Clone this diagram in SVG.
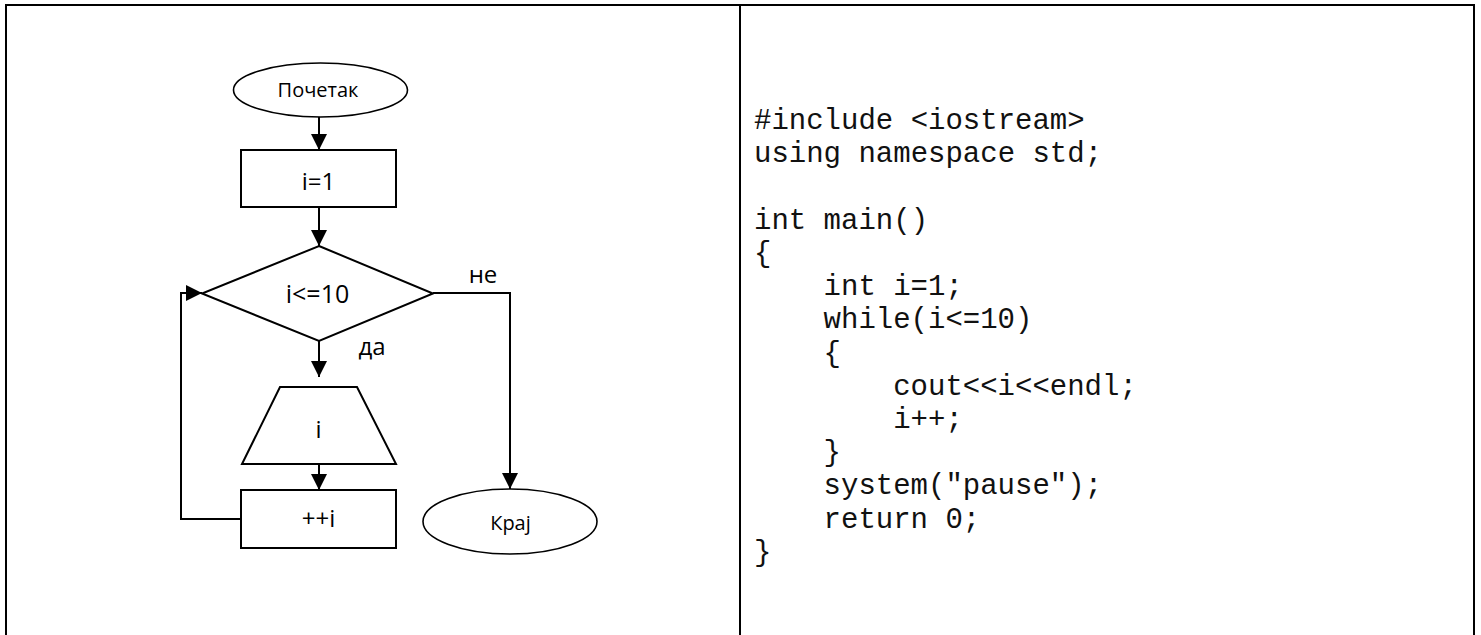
<svg xmlns="http://www.w3.org/2000/svg" width="1481" height="635" viewBox="0 0 1481 635">
<style>
.frame{fill:none;stroke:#000;stroke-width:2}
.shape{fill:#fff;stroke:#000;stroke-width:2}
.oval{fill:#fff;stroke:#000;stroke-width:1.6}
.conn{fill:none;stroke:#000;stroke-width:2}
.lbl{font-family:"Open Sans","Noto Sans","DejaVu Sans",sans-serif;font-size:24px;fill:#000;text-anchor:middle}
.sm{font-size:20px}
.code{font-family:"Liberation Mono","Courier New",monospace;font-size:29px;fill:#111}
</style>
<defs>
<marker id="arr" markerUnits="userSpaceOnUse" markerWidth="18" markerHeight="18" refX="16" refY="8" orient="auto">
<path d="M0,0 L16,8 L0,16 z" fill="#000"/>
</marker>
</defs>
<rect width="1481" height="635" fill="#fff"/>
<g id="frame">
<path class="frame" d="M6,635 V5 H1474 V635"/>
<line class="frame" x1="740" y1="5" x2="740" y2="635"/>
</g>
<g id="connectors">
<path class="conn" d="M319,117 V150" marker-end="url(#arr)"/>
<path class="conn" d="M319,207 V246" marker-end="url(#arr)"/>
<path class="conn" d="M319,341 V377" marker-end="url(#arr)"/>
<path class="conn" d="M319,464 V490" marker-end="url(#arr)"/>
<path class="conn" d="M433,293 H510 V489" marker-end="url(#arr)"/>
<path class="conn" d="M241,519 H181 V293 H202" marker-end="url(#arr)"/>
<text class="lbl" x="483" y="283">не</text>
<text class="lbl" x="372" y="355">да</text>
</g>
<g id="start">
<ellipse class="oval" cx="320.5" cy="90" rx="87" ry="27"/>
<text class="lbl sm" x="318" y="97">Почетак</text>
</g>
<g id="init">
<rect class="shape" x="241" y="150" width="155" height="57"/>
<text class="lbl" x="318.5" y="190">i=1</text>
</g>
<g id="cond">
<polygon class="shape" points="319,246 433,293.5 319,341 202,293.5"/>
<text class="lbl" x="317.5" y="303" style="font-size:25px">i&lt;=10</text>
</g>
<g id="output">
<polygon class="shape" points="280,387 357,387 396,464 242,464"/>
<text class="lbl" x="318.5" y="438">i</text>
</g>
<g id="incr">
<rect class="shape" x="241" y="490" width="155" height="58"/>
<text class="lbl" x="318.5" y="527">++i</text>
</g>
<g id="end">
<ellipse class="oval" cx="510" cy="521.5" rx="87" ry="32.5"/>
<text class="lbl sm" x="510.5" y="530">Крај</text>
</g>
<g id="code" class="code">
<text x="754" y="129">#include &lt;iostream&gt;</text>
<text x="754" y="162.4">using namespace std;</text>
<text x="754" y="228.8">int main()</text>
<text x="754" y="262">{</text>
<text x="823.6" y="295.2">int i=1;</text>
<text x="823.6" y="328.4">while(i&lt;=10)</text>
<text x="823.6" y="361.6">{</text>
<text x="893.2" y="394.8">cout&lt;&lt;i&lt;&lt;endl;</text>
<text x="893.2" y="428">i++;</text>
<text x="823.6" y="461.2">}</text>
<text x="823.6" y="494.4">system("pause");</text>
<text x="823.6" y="527.6">return 0;</text>
<text x="754" y="560.8">}</text>
</g>
</svg>
